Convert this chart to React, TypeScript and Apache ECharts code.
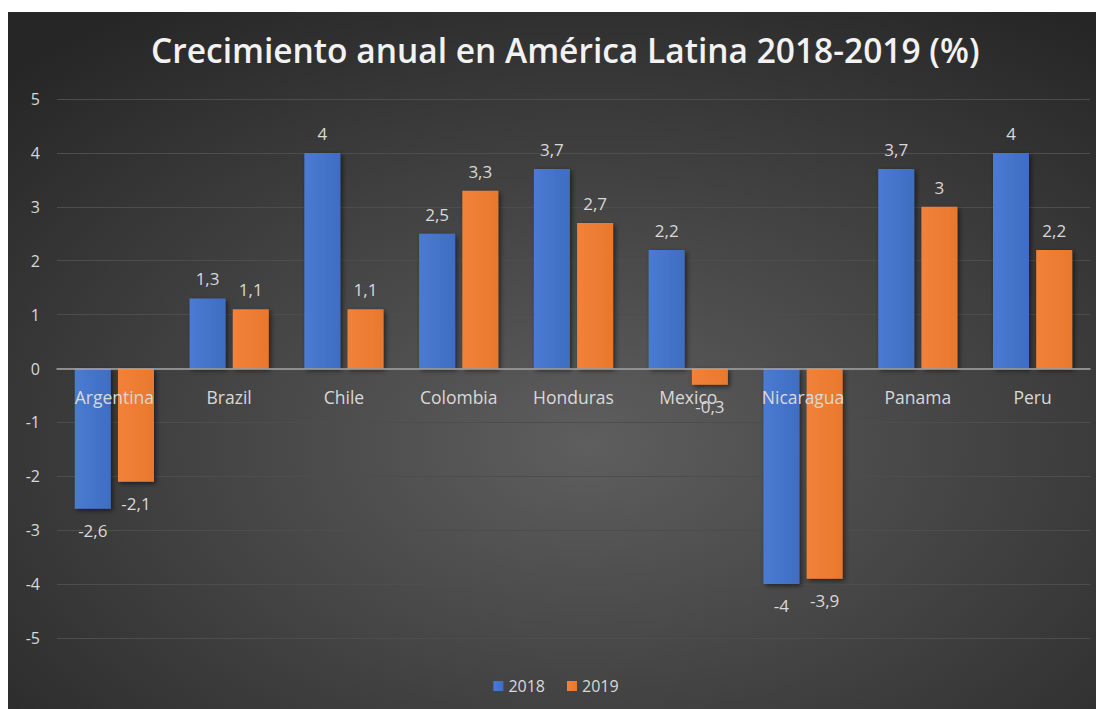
import React, { useEffect, useRef } from "react";
import * as echarts from "echarts";

const categories = ["Argentina", "Brazil", "Chile", "Colombia", "Honduras", "Mexico", "Nicaragua", "Panama", "Peru"];
const values2018 = [-2.6, 1.3, 4, 2.5, 3.7, 2.2, -4, 3.7, 4];
const values2019 = [-2.1, 1.1, 1.1, 3.3, 2.7, -0.3, -3.9, 3, 2.2];
const yTicks = { min: -5, max: 5, interval: 1 };

const FONT = "'Open Sans', 'Noto Sans', sans-serif";
const LABEL = "#d9d9d9";

function makeData(vals: number[]) {
  return vals.map((v) => ({
    value: v,
    label: {
      position: v < 0 ? "bottom" : "top",
      distance: v < 0 ? 13 : 11,
    },
  }));
}

export default function App() {
  const ref = useRef<HTMLDivElement>(null);
  useEffect(() => {
    if (!ref.current) return;
    const chart = echarts.init(ref.current, null, { renderer: "svg" });
    const gridTop = 87;
    const gridBottom = 71;
    const plotH = 697 - gridTop - gridBottom;
    const zeroOffset = -(plotH * (0 - yTicks.min)) / (yTicks.max - yTicks.min);
    const barLabel = {
      show: true,
      color: LABEL,
      fontSize: 17,
      fontFamily: FONT,
      formatter: (p: any) => String(p.value).replace(".", ","),
    };
    const shadow = {
      shadowBlur: 5,
      shadowColor: "rgba(0,0,0,0.55)",
      shadowOffsetX: 2,
      shadowOffsetY: 2,
    };
    chart.setOption({
      animation: false,
      backgroundColor: {
        type: "radial",
        x: 0.53,
        y: 0.62,
        r: 0.75,
        colorStops: [
          { offset: 0, color: "#5e5e5e" },
          { offset: 1, color: "#262626" },
        ],
      },
      title: {
        text: "Crecimiento anual en América Latina 2018-2019 (%)",
        left: 138,
        top: 16,
        textStyle: {
          color: "#f2f2f2",
          fontSize: 33.5,
          fontWeight: 600,
          fontFamily: FONT,
        },
      },
      legend: {
        bottom: 10,
        left: "center",
        itemWidth: 10,
        itemHeight: 10,
        itemGap: 22,
        icon: "rect",
        textStyle: { color: LABEL, fontSize: 16, fontFamily: FONT },
        data: ["2018", "2019"],
      },
      grid: { left: 49, right: 14, top: gridTop, bottom: gridBottom, containLabel: false },
      xAxis: {
        type: "category",
        data: categories,
        z: 10,
        position: "bottom",
        offset: zeroOffset,
        axisLine: { onZero: false, lineStyle: { color: "#a6a6a6", width: 1.5 } },
        axisTick: { show: false },
        axisLabel: { color: LABEL, fontSize: 17.5, fontFamily: FONT, margin: 19 },
      },
      yAxis: {
        type: "value",
        min: yTicks.min,
        max: yTicks.max,
        interval: yTicks.interval,
        axisLine: { show: false },
        axisTick: { show: false },
        axisLabel: { color: LABEL, fontSize: 16, fontFamily: FONT, margin: 17 },
        splitLine: { lineStyle: { color: "#4d4d4d", width: 1 } },
      },
      series: [
        {
          name: "2018",
          type: "bar",
          barWidth: 36,
          barGap: "20%",
          data: makeData(values2018),
          label: barLabel,
          itemStyle: {
            color: {
              type: "linear", x: 0, y: 0, x2: 1, y2: 0,
              colorStops: [
                { offset: 0, color: "#4a7bd2" },
                { offset: 1, color: "#3f6dc2" },
              ],
            },
            ...shadow,
          },
        },
        {
          name: "2019",
          type: "bar",
          barWidth: 36,
          barGap: "20%",
          data: makeData(values2019),
          label: barLabel,
          itemStyle: {
            color: {
              type: "linear", x: 0, y: 0, x2: 1, y2: 0,
              colorStops: [
                { offset: 0, color: "#f2823a" },
                { offset: 1, color: "#e8782c" },
              ],
            },
            ...shadow,
          },
        },
      ],
      color: ["#4472c4", "#ed7d31"],
    });
    return () => chart.dispose();
  }, []);
  return <div ref={ref} style={{ width: 1096, height: 697, marginTop: 4 }} />;
}
